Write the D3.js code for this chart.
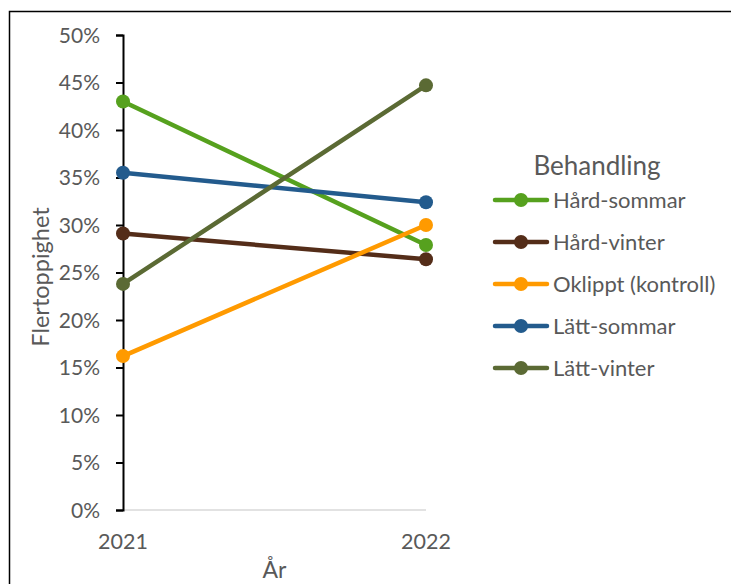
<!DOCTYPE html>
<html>
<head>
<meta charset="utf-8">
<script src="https://cdn.jsdelivr.net/npm/d3@7"></script>
<style>
  html, body { margin: 0; padding: 0; background: #fff; }
  svg { display: block; }
  text { font-family: Lato, "Open Sans", sans-serif; fill: #595959; }
</style>
</head>
<body>
<svg id="chart" width="731" height="584"></svg>
<script>
// Years on the category axis
const years = ["2021", "2022"];

// Treatment series (share of multi-topped trees)
const seriesNames = ["Hård-sommar", "Hård-vinter", "Oklippt (kontroll)", "Lätt-sommar", "Lätt-vinter"];
const hardSommar = [0.430, 0.279];
const hardVinter = [0.291, 0.264];
const oklippt    = [0.162, 0.300];
const lattSommar = [0.355, 0.324];
const lattVinter = [0.238, 0.447];
const seriesColors = ["#56a11e", "#542d19", "#ff9a00", "#235b8d", "#5b6a34"];

// Y tick values
const yTicks = [0, 0.05, 0.10, 0.15, 0.20, 0.25, 0.30, 0.35, 0.40, 0.45, 0.50];

const series = seriesNames.map((name, i) => ({
  name,
  color: seriesColors[i],
  values: [hardSommar, hardVinter, oklippt, lattSommar, lattVinter][i]
}));

const svg = d3.select("#chart");

// Chart frame
svg.append("rect")
  .attr("x", 9.5).attr("y", 11.5)
  .attr("width", 740).attr("height", 600)
  .attr("fill", "none").attr("stroke", "#000").attr("stroke-width", 1.5);

const x = d3.scalePoint().domain(years).range([123, 426]);
const y = d3.scaleLinear().domain([0, 0.5]).range([510, 35]);

// Horizontal baseline
svg.append("line")
  .attr("x1", x("2021")).attr("x2", x("2022"))
  .attr("y1", y(0)).attr("y2", y(0))
  .attr("stroke", "#d9d9d9").attr("stroke-width", 1.5);

// Y axis
const yAxis = d3.axisLeft(y)
  .tickValues(yTicks)
  .tickFormat(d3.format(".0%"))
  .tickSize(7)
  .tickPadding(16);
const gy = svg.append("g").attr("transform", `translate(${x("2021")},0)`).call(yAxis);
gy.select(".domain").attr("stroke", "#000").attr("stroke-width", 2);
gy.selectAll(".tick line").attr("stroke", "#000").attr("stroke-width", 2);
gy.selectAll(".tick text").style("font-size", "21px").attr("fill", "#595959").attr("dy", "0.35em");

// X category labels
svg.append("g").selectAll("text").data(years).join("text")
  .attr("x", d => x(d)).attr("y", 549)
  .attr("text-anchor", "middle")
  .style("font-size", "21.5px")
  .text(d => d);

// Axis titles
svg.append("text")
  .attr("x", (x("2021") + x("2022")) / 2).attr("y", 578)
  .attr("text-anchor", "middle")
  .style("font-size", "23px")
  .text("År");

svg.append("text")
  .attr("transform", "translate(49,277) rotate(-90)")
  .attr("text-anchor", "middle")
  .style("font-size", "23.5px")
  .text("Flertoppighet");

// Series lines and markers
const line = d3.line().x((d, i) => x(years[i])).y(d => y(d));
const gs = svg.append("g").selectAll("g").data(series).join("g");
gs.append("path")
  .attr("d", d => line(d.values))
  .attr("fill", "none")
  .attr("stroke", d => d.color)
  .attr("stroke-width", 4.5)
  .attr("stroke-linecap", "round");
gs.selectAll("circle").data(d => d.values.map(v => ({ v, c: d.color }))).join("circle")
  .attr("cx", (d, i) => x(years[i]))
  .attr("cy", d => y(d.v))
  .attr("r", 7)
  .attr("fill", d => d.c);

// Legend
const legend = svg.append("g");
legend.append("text")
  .attr("x", 597).attr("y", 175)
  .attr("text-anchor", "middle")
  .style("font-size", "26px")
  .text("Behandling");
const li = legend.selectAll("g.item").data(series).join("g")
  .attr("class", "item")
  .attr("transform", (d, i) => `translate(0,${200 + i * 42})`);
li.append("line")
  .attr("x1", 495).attr("x2", 547)
  .attr("stroke", d => d.color).attr("stroke-width", 4.5)
  .attr("stroke-linecap", "round");
li.append("circle")
  .attr("cx", 521).attr("r", 7)
  .attr("fill", d => d.color);
li.append("text")
  .attr("x", 553).attr("dy", "0.35em")
  .style("font-size", "22px")
  .text(d => d.name);
</script>
</body>
</html>
